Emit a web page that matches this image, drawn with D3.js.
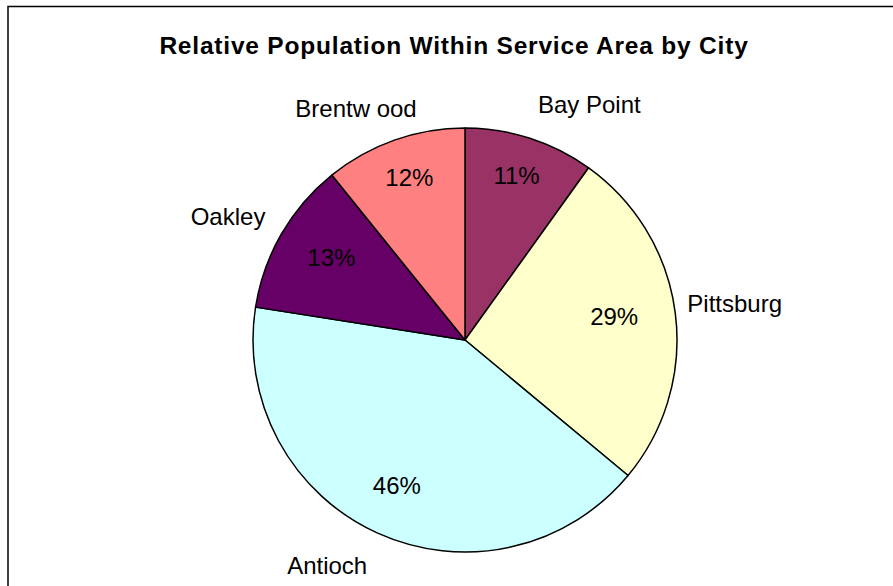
<!DOCTYPE html>
<html>
<head>
<meta charset="utf-8">
<script src="https://cdn.jsdelivr.net/npm/d3@7"></script>
<style>
  html, body { margin: 0; padding: 0; background: #fff; }
  svg { display: block; font-family: Arial, "Liberation Sans", Helvetica, sans-serif; }
</style>
</head>
<body>
<svg id="chart" width="893" height="586"></svg>
<script>
// Population share by city (percent labels as shown on each slice)
const cities = ["Bay Point", "Pittsburg", "Antioch", "Oakley", "Brentw ood"];
const shares = [11, 29, 46, 13, 12];
const sliceColors = ["#993366", "#FFFFCC", "#CCFFFF", "#660066", "#FF8080"];
const chartTitle = "Relative Population Within Service Area by City";

const width = 893, height = 586;
const cx = 465, cy = 340, radius = 212;
const fontSize = 24;

const svg = d3.select("#chart");

// Chart frame (runs off the right and bottom edges)
svg.append("rect")
  .attr("x", 8).attr("y", 6.5)
  .attr("width", width + 20).attr("height", height + 20)
  .attr("fill", "#fff")
  .attr("stroke", "#000")
  .attr("stroke-width", 1.5);

// Title
svg.append("text")
  .attr("x", 454).attr("y", 54)
  .attr("text-anchor", "middle")
  .attr("font-weight", "bold")
  .attr("font-size", 24.5)
  .attr("letter-spacing", 0.8)
  .text(chartTitle);

const data = cities.map((c, i) => ({ city: c, value: shares[i], color: sliceColors[i] }));

const pie = d3.pie().sort(null).value(d => d.value);
const arcs = pie(data);
const arc = d3.arc().innerRadius(0).outerRadius(radius);

const g = svg.append("g").attr("transform", `translate(${cx},${cy})`);

g.selectAll("path.slice")
  .data(arcs)
  .join("path")
  .attr("class", "slice")
  .attr("d", arc)
  .attr("fill", d => d.data.color)
  .attr("stroke", "#000")
  .attr("stroke-width", 1.5)
  .attr("stroke-linejoin", "round");

const midAngle = d => (d.startAngle + d.endAngle) / 2;

// Measure a text's width so labels can be anchored by a corner
function measure(str) {
  const t = svg.append("text").attr("font-size", fontSize).text(str);
  const w = t.node().getComputedTextLength();
  t.remove();
  return w;
}
const capH = fontSize * 0.716;
const descentLift = 5;

// Percent labels: the outward corner of each label box sits on a radius
// that grows a little toward the top and bottom of the pie
g.selectAll("text.pct")
  .data(arcs)
  .join("text")
  .attr("class", "pct")
  .attr("font-size", fontSize)
  .attr("text-anchor", "middle")
  .each(function(d) {
    const label = d.data.value + "%";
    const a = midAngle(d);
    const ux = Math.sin(a), uy = -Math.cos(a);
    const reach = 174 + 11 * Math.abs(uy);
    const hw = measure(label) / 2, hh = capH / 2;
    const ox = Math.sign(ux) * hw, oy = Math.sign(uy) * hh;
    const b = ux * ox + uy * oy;
    const c = ox * ox + oy * oy - reach * reach;
    const t = -b + Math.sqrt(b * b - c);
    d3.select(this)
      .attr("x", t * ux)
      .attr("y", t * uy + hh - descentLift)
      .text(label);
  });

// City names outside the pie: the box corner nearest the centre sits on a radius
const nameShift = { "Brentw ood": [31, 1] };
g.selectAll("text.city")
  .data(arcs)
  .join("text")
  .attr("class", "city")
  .attr("font-size", fontSize)
  .each(function(d) {
    const a = midAngle(d);
    const ux = Math.sin(a), uy = -Math.cos(a);
    const reach = 222 + 17 * Math.abs(uy);
    const px = reach * ux, py = reach * uy;
    const w = measure(d.data.city);
    const s = nameShift[d.data.city] || [0, 0];
    const x = (px >= 0 ? px : px - w) + s[0];
    const y = (py >= 0 ? py + capH : py) + s[1];
    d3.select(this).attr("x", x).attr("y", y).text(d.data.city);
  });
</script>
</body>
</html>
